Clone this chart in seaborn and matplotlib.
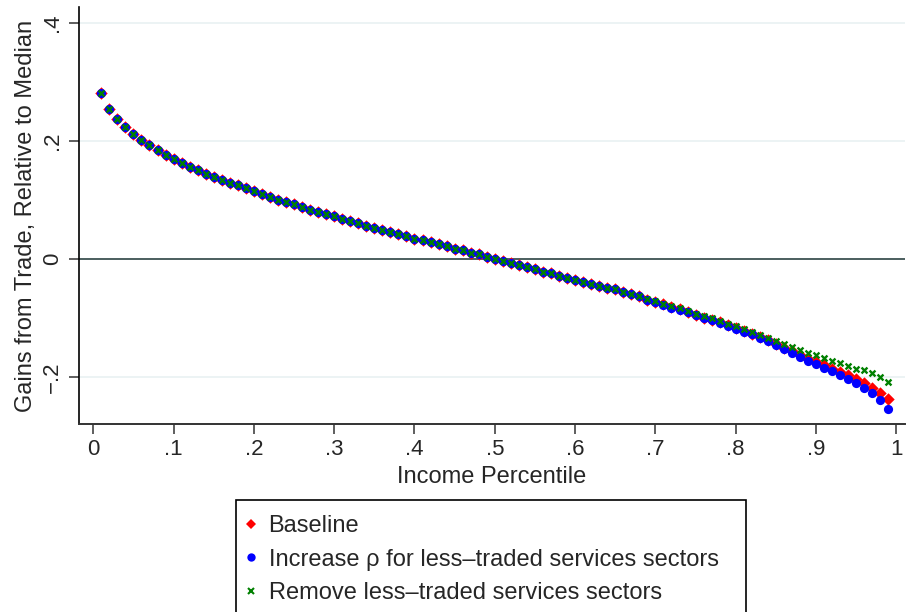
import numpy as np
import pandas as pd
import matplotlib
matplotlib.use("Agg")
import matplotlib.pyplot as plt
from matplotlib.patches import Rectangle
from matplotlib.lines import Line2D
import seaborn as sns

# ---------------- data ----------------
percentile = np.round(np.arange(1, 100) * 0.01, 2)

common = [0.282, 0.255, 0.238, 0.224, 0.212, 0.202, 0.193, 0.185, 0.177, 0.170,
          0.163, 0.157, 0.151, 0.145, 0.140, 0.135, 0.130, 0.125, 0.120, 0.115,
          0.110, 0.106, 0.101, 0.097, 0.093, 0.088, 0.084, 0.080, 0.077, 0.073,
          0.069, 0.065, 0.061, 0.057, 0.053, 0.049, 0.046, 0.043, 0.039, 0.035,
          0.032, 0.029, 0.026, 0.022, 0.018, 0.015, 0.011, 0.008, 0.004, 0.000,
          -0.003, -0.006, -0.010, -0.014, -0.017, -0.021, -0.024, -0.028, -0.031, -0.035,
          -0.038, -0.042, -0.045, -0.048, -0.051, -0.055, -0.059, -0.062]

baseline_tail = [-0.0690, -0.0725, -0.0767, -0.0816, -0.0850, -0.0894, -0.0940, -0.0988,
                 -0.1027, -0.1071, -0.1118, -0.1168, -0.1217, -0.1261, -0.1318, -0.1373,
                 -0.1432, -0.1497, -0.1556, -0.1625, -0.1688, -0.1745, -0.1798, -0.1856,
                 -0.1912, -0.1968, -0.2031, -0.2103, -0.2183, -0.2273, -0.2375]
increase_rho_tail = [-0.0697, -0.0731, -0.0771, -0.0822, -0.0856, -0.0900, -0.0946, -0.0997,
                     -0.1036, -0.1081, -0.1127, -0.1178, -0.1229, -0.1273, -0.1331, -0.1386,
                     -0.1450, -0.1520, -0.1590, -0.1658, -0.1720, -0.1781, -0.1839, -0.1900,
                     -0.1968, -0.2031, -0.2098, -0.2183, -0.2273, -0.2392, -0.2534]
remove_services_tail = [-0.0675, -0.0708, -0.0754, -0.0798, -0.0832, -0.0878, -0.0924, -0.0963,
                        -0.1002, -0.1042, -0.1093, -0.1137, -0.1183, -0.1229, -0.1285, -0.1341,
                        -0.1390, -0.1443, -0.1488, -0.1539, -0.1585, -0.1629, -0.1680, -0.1720,
                        -0.1765, -0.1816, -0.1867, -0.1878, -0.1924, -0.1997, -0.2081]

baseline = common + baseline_tail
increase_rho = common + increase_rho_tail
remove_services = common + remove_services_tail

series_labels = ["Baseline",
                 "Increase \u03c1 for less\u2013traded services sectors",
                 "Remove less\u2013traded services sectors"]
x_ticks = [0, .1, .2, .3, .4, .5, .6, .7, .8, .9, 1]
x_ticklabels = ["0", ".1", ".2", ".3", ".4", ".5", ".6", ".7", ".8", ".9", "1"]
y_ticks = [-.2, 0, .2, .4]
y_ticklabels = ["\u2212.2", "0", ".2", ".4"]
x_label = "Income Percentile"
y_label = "Gains from Trade, Relative to Median"

# ---------------- style ----------------
sns.set_theme(style="white")
plt.rcParams['font.family'] = ['Liberation Sans', 'DejaVu Sans']

W, H = 909, 612
fig = plt.figure(figsize=(W / 100, H / 100), dpi=100)
ax = fig.add_axes([78.5 / W, 1 - 424 / H, (905 - 78.5) / W, (424 - 7) / H])

df = pd.DataFrame({"x": percentile, "Baseline": baseline,
                   "Rho": increase_rho, "Remove": remove_services})

sns.scatterplot(data=df, x="x", y="Baseline", ax=ax, marker="D", color="#ff0000",
                s=40, linewidth=0, zorder=3)
sns.scatterplot(data=df, x="x", y="Rho", ax=ax, marker="o", color="#0000ff",
                s=44, linewidth=0, zorder=4)
sns.scatterplot(data=df, x="x", y="Remove", ax=ax, marker="x", color="#008000",
                s=18, linewidth=1.7, zorder=5)

ax.set_xlim(-0.0184, 1.0108)
ax.set_ylim(-0.2793, 0.4275)

for yv in [-.2, .2, .4]:
    ax.axhline(yv, color="#eaf2f3", lw=1.3, zorder=1)
ax.axhline(0, color="#1a3333", lw=1.1, zorder=2)

ax.set_xticks(x_ticks)
ax.set_xticklabels(x_ticklabels, fontsize=16)
ax.set_yticks(y_ticks)
ax.set_yticklabels(y_ticklabels, fontsize=16, rotation=90, va="center")
ax.tick_params(axis="both", direction="out", length=7, width=1.1, color="#333333",
               left=True, bottom=True, pad=4)
ax.set_xlabel(x_label, fontsize=17, labelpad=4)
ax.set_ylabel(y_label, fontsize=17, labelpad=4)

for s in ["top", "right"]:
    ax.spines[s].set_visible(False)
ax.spines["left"].set_color("#000000")
ax.spines["left"].set_linewidth(1.2)
ax.spines["bottom"].set_color("#333333")
ax.spines["bottom"].set_linewidth(1.4)
ax.grid(False)

# legend
handles = [
    Line2D([], [], marker="D", color="#ff0000", linestyle="none", markersize=5.5, markeredgewidth=0),
    Line2D([], [], marker="o", color="#0000ff", linestyle="none", markersize=6, markeredgewidth=0),
    Line2D([], [], marker="x", color="#008000", linestyle="none", markersize=4, markeredgewidth=1.5),
]
leg = fig.legend(handles, series_labels, loc="upper left",
                 bbox_to_anchor=(232 / W, 1 - 503 / H), frameon=False,
                 fontsize=17, handlelength=0.6, handletextpad=0.45,
                 labelspacing=0.5, borderpad=0)
fig.add_artist(Rectangle((236 / W, -0.05), (746 - 236) / W, 0.05 + (1 - 500 / H),
                         transform=fig.transFigure, fill=False, edgecolor="black",
                         lw=1.2, clip_on=False))

fig.savefig("out.png", dpi=100)
